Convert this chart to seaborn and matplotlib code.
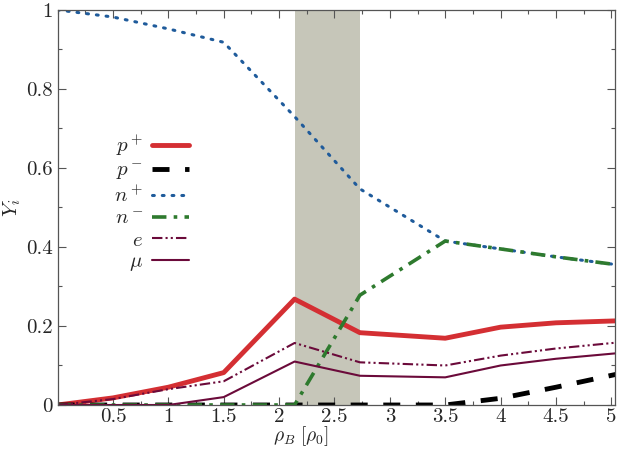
import seaborn as sns
import pandas as pd
import matplotlib.pyplot as plt
from matplotlib.ticker import MultipleLocator, FixedLocator, FixedFormatter

# density grid (rho_B / rho_0) where the curves bend
rho = [0.0, 0.5, 1.0, 1.5, 2.14, 2.73, 3.5, 4.0, 4.5, 5.05]

p_plus = [0.0, 0.018, 0.045, 0.082, 0.268, 0.183, 0.169, 0.197, 0.208, 0.213]
p_minus = [0.0, 0.0, 0.0, 0.0, 0.0, 0.0, 0.0, 0.017, 0.045, 0.078]
n_plus = [1.0, 0.982, 0.952, 0.918, 0.73, 0.547, 0.415, 0.395, 0.375, 0.355]
n_minus = [0.0, 0.0, 0.0, 0.0, 0.0, 0.278, 0.415, 0.395, 0.375, 0.355]
e_frac = [0.0, 0.015, 0.04, 0.06, 0.157, 0.108, 0.1, 0.125, 0.143, 0.158]
mu_frac = [0.0, 0.0, 0.0, 0.02, 0.11, 0.074, 0.07, 0.1, 0.117, 0.131]

band = (2.14, 2.73)

x_ticks = [0.5, 1, 1.5, 2, 2.5, 3, 3.5, 4, 4.5, 5]
x_labels = ['0.5', '1', '1.5', '2', '2.5', '3', '3.5', '4', '4.5', '5']
y_ticks = [0, 0.2, 0.4, 0.6, 0.8, 1]
y_labels = ['0', '0.2', '0.4', '0.6', '0.8', '1']

sns.set_style("ticks")
plt.rcParams['font.family'] = ['serif']
plt.rcParams['font.serif'] = ['cmr10', 'DejaVu Serif']
plt.rcParams['mathtext.fontset'] = 'cm'
plt.rcParams['axes.unicode_minus'] = False

fig = plt.figure(figsize=(6.19, 4.5), dpi=100)
ax = fig.add_axes([0.093, 0.1, 0.9, 0.878])

ax.axvspan(band[0], band[1], color='#c6c6b9', lw=0, zorder=0)

series = [
    (r'$p^+$', p_plus, dict(color='#d42f33', lw=3.5, ls='-')),
    (r'$p^-$', p_minus, dict(color='black', lw=3.5, ls=(0, (3.5, 3.2)))),
    (r'$n^+$', n_plus, dict(color='#1f5b9b', lw=2.2, ls=(0, (0.6, 2.6)), dash_capstyle='round')),
    (r'$n^-$', n_minus, dict(color='#2e7a2e', lw=2.6, ls=(0, (4, 2, 1, 2)))),
    (r'$e$', e_frac, dict(color='#6b0a3a', lw=1.5, ls=(0, (5, 1.5, 1, 1.5, 1, 1.5)))),
    (r'$\mu$', mu_frac, dict(color='#6b0a3a', lw=1.5, ls='-')),
]

for name, vals, style in series:
    df = pd.DataFrame({'rho': rho, 'Y': vals})
    sns.lineplot(data=df, x='rho', y='Y', ax=ax, label=name, **style)

ax.set_xlim(0, 5.03)
ax.set_ylim(0, 1)
ax.xaxis.set_major_locator(FixedLocator(x_ticks))
ax.xaxis.set_major_formatter(FixedFormatter(x_labels))
ax.xaxis.set_minor_locator(MultipleLocator(0.25))
ax.yaxis.set_major_locator(FixedLocator(y_ticks))
ax.yaxis.set_major_formatter(FixedFormatter(y_labels))
ax.yaxis.set_minor_locator(MultipleLocator(0.1))
ax.tick_params(which='both', direction='in', top=True, right=True, labelsize=15, color='#555555')
ax.tick_params(which='major', length=6, width=0.8)
ax.tick_params(which='minor', length=3, width=0.8)
ax.tick_params(axis='x', pad=2)
for s in ax.spines.values():
    s.set_color('#555555')
    s.set_linewidth(0.9)

ax.set_xlabel(r'$\rho_B\ [\rho_0]$', fontsize=14)
ax.xaxis.set_label_coords(0.437, -0.048)
ax.set_ylabel(r'$Y_i$', fontsize=15, labelpad=2)

ax.legend(loc='upper left', bbox_to_anchor=(0.068, 0.735), frameon=False, markerfirst=False,
          fontsize=15, handlelength=1.75, labelspacing=0.15, handletextpad=0.45)

fig.savefig('out.png', dpi=100)
